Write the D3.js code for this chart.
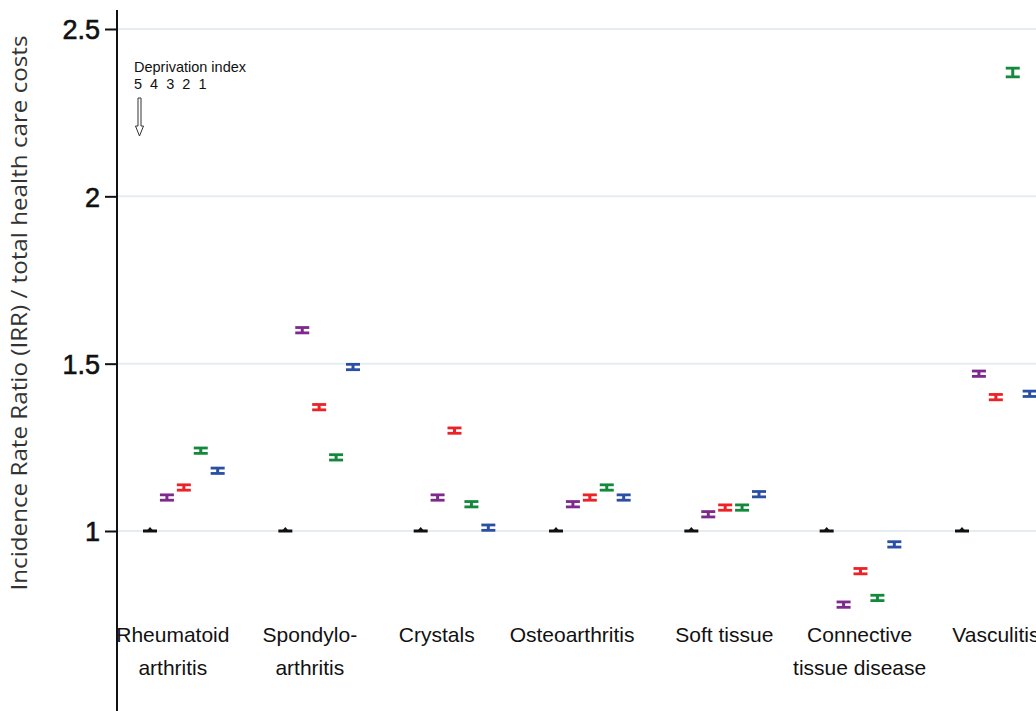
<!DOCTYPE html>
<html>
<head>
<meta charset="utf-8">
<script src="https://cdn.jsdelivr.net/npm/d3@7/dist/d3.min.js"></script>
<style>
  html, body { margin: 0; padding: 0; background: #fff; }
  svg { display: block; }
</style>
</head>
<body>
<svg id="chart" width="1036" height="711"></svg>
<script>
// Disease groups (label lines) and where each label sits on the x position scale
const categories = [
  ["Rheumatoid", "arthritis"],
  ["Spondylo-", "arthritis"],
  ["Crystals"],
  ["Osteoarthritis"],
  ["Soft tissue"],
  ["Connective", "tissue disease"],
  ["Vasculitis"]
];
const labelPos = [1.35, 9.45, 16.95, 24.95, 33.95, 41.95, 50.0];

// Deprivation quintiles, 5 (reference) to 1
const quintiles = ["5", "4", "3", "2", "1"];
const colors = ["#111111", "#7d2a8c", "#ec2227", "#14893c", "#2c4fa6"];

// IRR estimates per quintile, one value per disease group
const irr5 = [1, 1, 1, 1, 1, 1, 1];
const irr4 = [1.10, 1.60, 1.10, 1.08, 1.05, 0.78, 1.47];
const irr3 = [1.13, 1.37, 1.30, 1.10, 1.07, 0.88, 1.40];
const irr2 = [1.24, 1.22, 1.08, 1.13, 1.07, 0.80, 2.37];
const irr1 = [1.18, 1.49, 1.01, 1.10, 1.11, 0.96, 1.41];

// 95% CI half widths
const ci5 = [0, 0, 0, 0, 0, 0, 0];
const ci4 = [0.008, 0.008, 0.008, 0.008, 0.008, 0.008, 0.008];
const ci3 = [0.008, 0.008, 0.008, 0.008, 0.008, 0.008, 0.008];
const ci2 = [0.008, 0.008, 0.008, 0.008, 0.008, 0.008, 0.013];
const ci1 = [0.008, 0.008, 0.008, 0.008, 0.008, 0.008, 0.008];

const yTicks = [1, 1.5, 2, 2.5];
const yTickLabels = ["1", "1.5", "2", "2.5"];

const series = [irr5, irr4, irr3, irr2, irr1];
const cis = [ci5, ci4, ci3, ci2, ci1];

const points = [];
categories.forEach((c, g) => {
  series.forEach((s, k) => {
    points.push({ g, k, pos: g * 8 + k, v: s[g], lo: s[g] - cis[k][g], hi: s[g] + cis[k][g], color: colors[k] });
  });
});

const svg = d3.select("#chart");
const x = d3.scaleLinear().domain([0, 48]).range([150, 962]);
const y = d3.scaleLinear().domain([1, 2.5]).range([531, 29]);
const axisX = 117;

// gridlines
svg.append("g").selectAll("line").data(yTicks).join("line")
  .attr("x1", axisX).attr("x2", 1036)
  .attr("y1", d => y(d)).attr("y2", d => y(d))
  .attr("stroke", "#e4eef2").attr("stroke-width", 2);

// y axis
const yAxis = d3.axisLeft(y).tickValues(yTicks)
  .tickFormat((d, i) => yTickLabels[i]).tickSize(12).tickPadding(5);
const ga = svg.append("g").attr("transform", `translate(${axisX},0)`).call(yAxis);
ga.select(".domain").remove();
ga.append("line").attr("x1", 0).attr("x2", 0).attr("y1", 10).attr("y2", 711)
  .attr("stroke", "#111").attr("stroke-width", 2);
ga.selectAll(".tick line").attr("stroke", "#111").attr("stroke-width", 2);
ga.selectAll(".tick text")
  .attr("font-family", "Liberation Sans, Arial, sans-serif")
  .attr("font-size", 27).attr("fill", "#111")
  .attr("stroke", "#111").attr("stroke-width", 0.6)
  .attr("dy", "0.36em");

// y axis title
svg.append("text")
  .attr("transform", `translate(27,313) rotate(-90)`)
  .attr("text-anchor", "middle")
  .attr("font-family", "Open Sans, sans-serif")
  .attr("font-size", 21).attr("fill", "#333")
  .attr("textLength", 555).attr("lengthAdjust", "spacingAndGlyphs")
  .text("Incidence Rate Ratio (IRR) / total health care costs");

// category labels
const lab = svg.append("g").selectAll("text").data(categories).join("text")
  .attr("text-anchor", "middle")
  .attr("font-family", "Liberation Sans, Arial, sans-serif")
  .attr("font-size", 21).attr("fill", "#111")
  .attr("x", (d, i) => x(labelPos[i]))
  .attr("y", 642);
lab.selectAll("tspan").data(d => d).join("tspan")
  .attr("x", function () { return this.parentNode.getAttribute("x"); })
  .attr("dy", (d, i) => i === 0 ? 0 : 33)
  .text(d => d);

// error bars
const capW = 7;
const bars = svg.append("g").selectAll("g").data(points).join("g");
bars.filter(d => d.k > 0).each(function (d) {
  const g = d3.select(this);
  const cx = x(d.pos);
  g.append("line").attr("x1", cx).attr("x2", cx)
    .attr("y1", y(d.hi)).attr("y2", y(d.lo))
    .attr("stroke", d.color).attr("stroke-width", 3);
  [d.hi, d.lo].forEach(v => {
    g.append("line").attr("x1", cx - capW).attr("x2", cx + capW)
      .attr("y1", y(v)).attr("y2", y(v))
      .attr("stroke", d.color).attr("stroke-width", 2.8);
  });
});
// reference category: point estimate only
bars.filter(d => d.k === 0).each(function (d) {
  const g = d3.select(this);
  const cx = x(d.pos), cy = y(d.v);
  g.append("line").attr("x1", cx - capW).attr("x2", cx + capW)
    .attr("y1", cy).attr("y2", cy)
    .attr("stroke", d.color).attr("stroke-width", 3);
  g.append("path")
    .attr("d", `M${cx - 3.5},${cy} L${cx},${cy - 4} L${cx + 3.5},${cy} Z`)
    .attr("fill", d.color);
});

// legend
const leg = svg.append("g").attr("font-family", "Liberation Sans, Arial, sans-serif")
  .attr("font-size", 14.5).attr("fill", "#111");
leg.append("text").attr("x", 134).attr("y", 72).text("Deprivation index");
leg.append("text").attr("x", 134).attr("y", 89).attr("xml:space", "preserve")
  .text(quintiles.join("  "));
leg.append("path")
  .attr("d", "M138,98 L141,98 L141,126 L143.5,126 L139.5,136 L135.5,126 L138,126 Z")
  .attr("fill", "#fff").attr("stroke", "#333").attr("stroke-width", 1);
</script>
</body>
</html>
